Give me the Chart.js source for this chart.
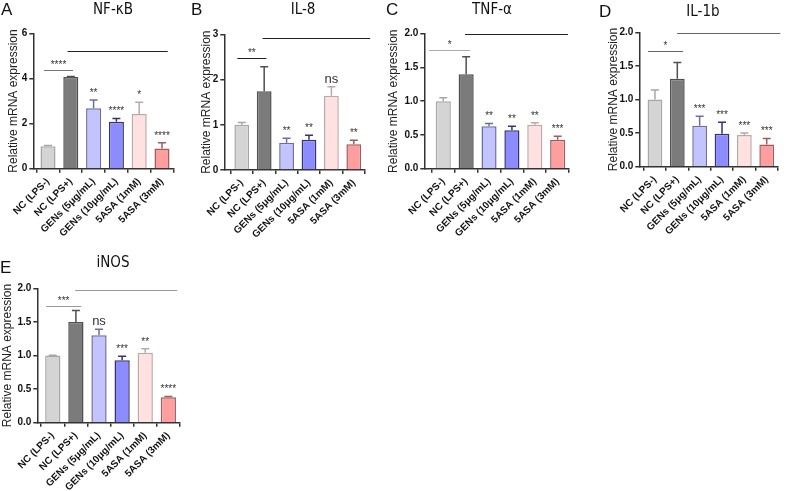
<!DOCTYPE html>
<html>
<head>
<meta charset="utf-8">
<script src="https://cdn.jsdelivr.net/npm/chart.js@4.4.1/dist/chart.umd.min.js"></script>
<style>
  body { margin: 0; background: #fff; width: 787px; height: 491px; overflow: hidden; position: relative; }
  canvas { position: absolute; }
</style>
</head>
<body>
<canvas id="cA" width="190" height="245" style="left:0px;top:0px"></canvas>
<canvas id="cB" width="195" height="245" style="left:190px;top:0px"></canvas>
<canvas id="cC" width="195" height="245" style="left:385px;top:0px"></canvas>
<canvas id="cD" width="207" height="245" style="left:580px;top:0px"></canvas>
<canvas id="cE" width="200" height="241" style="left:0px;top:250px"></canvas>
<script>
// groups on the x axis
const groups = ["NC (LPS-)", "NC (LPS+)", "GENs (5μg/mL)", "GENs (10μg/mL)", "5ASA (1mM)", "5ASA (3mM)"];

// mean and error (upper SEM) per panel
const nfkbMean = [1.0, 4.06, 2.68, 2.08, 2.42, 0.89];
const nfkbErr  = [0.03, 0.03, 0.36, 0.15, 0.52, 0.26];
const nfkbSig  = ["", "", "**", "****", "*", "****"];

const il8Mean = [1.0, 1.74, 0.60, 0.67, 1.64, 0.57];
const il8Err  = [0.05, 0.54, 0.10, 0.10, 0.20, 0.09];
const il8Sig  = ["", "", "**", "**", "ns", "**"];

const tnfMean = [1.0, 1.40, 0.63, 0.57, 0.65, 0.43];
const tnfErr  = [0.05, 0.26, 0.04, 0.06, 0.03, 0.05];
const tnfSig  = ["", "", "**", "**", "**", "***"];

const il1bMean = [1.0, 1.31, 0.61, 0.49, 0.47, 0.33];
const il1bErr  = [0.14, 0.24, 0.14, 0.17, 0.03, 0.09];
const il1bSig  = ["", "", "***", "***", "***", "***"];

const inosMean = [1.0, 1.50, 1.30, 0.93, 1.04, 0.38];
const inosErr  = [0.005, 0.17, 0.09, 0.06, 0.06, 0.01];
const inosSig  = ["", "", "ns", "***", "**", "****"];

// y axis ticks per panel
const ticksA = [0, 2, 4, 6];
const ticksB = [0, 1, 2, 3];
const ticksCDE = [0, 0.5, 1.0, 1.5, 2.0];

const fills   = ["#d4d4d4", "#7b7b7b", "#c3c3ff", "#8c8cff", "#ffe1e1", "#ff9e9e"];
const borders = ["#a6a6a6", "#505050", "#6e6e9c", "#34346e", "#bba8a8", "#9c5e5e"];

const FONT = "'Liberation Sans', Arial, sans-serif";

const panels = [
  { id: "cA", title: "NF-κB", letter: "A", mean: nfkbMean, err: nfkbErr, sig: nfkbSig, ticks: ticksA, dec: 0,
    padL: 6.1, yW: 27.2, padT: 33.3, xH: 76.3, padR: 16.6, xMin: -0.645,
    titleX: 113, titleY: 10, letterX: 1, letterY: 10,
    shortBr: [-0.18, 1.10, 4.39, "#777", "****"], longBr: [0.86, 5.25, 5.23, "#222"] },
  { id: "cB", title: "IL-8", letter: "B", mean: il8Mean, err: il8Err, sig: il8Sig, ticks: ticksB, dec: 0,
    padL: 9.3, yW: 25, padT: 34.3, xH: 75, padR: 20, xMin: -0.78,
    titleX: 113, titleY: 10, letterX: 1, letterY: 10,
    shortBr: [-0.2, 1.1, 2.48, "#222", "**"], longBr: [0.93, 5.73, 2.91, "#222"] },
  { id: "cC", title: "TNF-α", letter: "C", mean: tnfMean, err: tnfErr, sig: tnfSig, ticks: ticksCDE, dec: 1,
    padL: 1.5, yW: 37.8, padT: 33.7, xH: 76.3, padR: 10.9, xMin: -0.83,
    titleX: 107, titleY: 10, letterX: 1, letterY: 10,
    shortBr: [-0.62, 1.17, 1.754, "#aaa", "*"], longBr: [0.95, 5.45, 2.0, "#222"] },
  { id: "cD", title: "IL-1b", letter: "D", mean: il1bMean, err: il1bErr, sig: il1bSig, ticks: ticksCDE, dec: 1,
    padL: 26.5, yW: 32.8, padT: 32.3, xH: 78.3, padR: 9.1, xMin: -0.70,
    titleX: 123, titleY: 12, letterX: 19, letterY: 12,
    shortBr: [-0.31, 1.26, 1.72, "#666", "*"], longBr: [0.99, 5.61, 1.985, "#666"] },
  { id: "cE", title: "iNOS", letter: "E", mean: inosMean, err: inosErr, sig: inosSig, ticks: ticksCDE, dec: 1,
    padL: 0.3, yW: 37, padT: 38.3, xH: 68.3, padR: 20.1, xMin: -0.67,
    titleX: 113, titleY: 13, letterX: 0, letterY: 18,
    shortBr: [-0.29, 1.23, 1.73, "#999", "***"], longBr: [0.97, 5.38, 1.975, "#999"] }
];

function makeExtras(p) {
  return {
    id: "extras",
    afterDatasetsDraw(chart) {
      const ctx = chart.ctx, xs = chart.scales.x, ys = chart.scales.y;
      const meta = chart.getDatasetMeta(0);
      ctx.save();
      // error bars + significance marks
      p.err.forEach((e, i) => {
        const bar = meta.data[i];
        const top = ys.getPixelForValue(p.mean[i] + e);
        ctx.strokeStyle = borders[i];
        ctx.lineWidth = 1.5;
        ctx.beginPath();
        ctx.moveTo(bar.x, bar.y);
        ctx.lineTo(bar.x, top);
        ctx.moveTo(bar.x - 4, top);
        ctx.lineTo(bar.x + 4, top);
        ctx.stroke();
        const s = p.sig[i];
        if (s) {
          ctx.fillStyle = "#333";
          ctx.textAlign = "center";
          ctx.textBaseline = "alphabetic";
          ctx.font = s === "ns" ? "13px " + FONT : "10px " + FONT;
          ctx.fillText(s, bar.x, top - 4);
        }
      });
      // brackets
      const sb = p.shortBr, lb = p.longBr;
      ctx.lineWidth = 1;
      ctx.strokeStyle = sb[3];
      const sy = Math.round(ys.getPixelForValue(sb[2])) + 0.5;
      ctx.beginPath();
      ctx.moveTo(xs.getPixelForValue(sb[0]), sy);
      ctx.lineTo(xs.getPixelForValue(sb[1]), sy);
      ctx.stroke();
      ctx.fillStyle = "#333";
      ctx.textAlign = "center";
      ctx.font = "10px " + FONT;
      ctx.fillText(sb[4], (xs.getPixelForValue(sb[0]) + xs.getPixelForValue(sb[1])) / 2, sy - 3);
      ctx.strokeStyle = lb[3];
      const ly = Math.round(ys.getPixelForValue(lb[2])) + 0.5;
      ctx.beginPath();
      ctx.moveTo(xs.getPixelForValue(lb[0]), ly);
      ctx.lineTo(xs.getPixelForValue(lb[1]), ly);
      ctx.stroke();
      // title and panel letter
      ctx.fillStyle = "#111";
      ctx.textBaseline = "middle";
      ctx.font = "15px 'DejaVu Sans Condensed', 'DejaVu Sans', sans-serif";
      ctx.textAlign = "center";
      ctx.fillText(p.title, p.titleX, p.titleY);
      ctx.font = "17px " + FONT;
      ctx.textAlign = "left";
      ctx.fillText(p.letter, p.letterX, p.letterY);
      ctx.restore();
    }
  };
}

function makePanel(p) {
  const tickFont = { family: FONT, size: 10, weight: "bold" };
  new Chart(document.getElementById(p.id), {
    type: "bar",
    data: {
      datasets: [{
        data: p.mean.map((m, i) => ({ x: i, y: m })),
        backgroundColor: fills,
        borderColor: borders,
        borderWidth: 1.5,
        barPercentage: 0.66,
        categoryPercentage: 1
      }]
    },
    options: {
      responsive: false,
      animation: false,
      layout: { autoPadding: false, padding: { left: p.padL, top: p.padT, right: p.padR, bottom: 0 } },
      plugins: { legend: { display: false }, tooltip: { enabled: false } },
      scales: {
        x: {
          type: "linear",
          min: p.xMin,
          max: 5.5,
          offset: false,
          afterFit: s => { s.height = p.xH; s.paddingLeft = 0; s.paddingRight = 0; },
          ticks: {
            stepSize: 1, includeBounds: false, autoSkip: false,
            maxRotation: 45, minRotation: 45,
            callback: v => groups[v],
            font: tickFont, color: "#111"
          },
          grid: { drawOnChartArea: false, tickLength: 4, color: "#333", lineWidth: 1.5 },
          border: { color: "#333", width: 1.5 }
        },
        y: {
          min: 0,
          max: p.ticks[p.ticks.length - 1],
          afterFit: s => { s.width = p.yW; s.paddingTop = 0; s.paddingBottom = 0; },
          afterBuildTicks: s => { s.ticks = p.ticks.map(v => ({ value: v })); },
          ticks: { callback: v => v.toFixed(p.dec), font: tickFont, color: "#111", padding: 2 },
          grid: { drawOnChartArea: false, tickLength: 4, color: "#333", lineWidth: 1.5 },
          border: { color: "#333", width: 1.5 },
          title: { display: true, text: "Relative mRNA expression", font: { family: FONT, size: 12 }, color: "#222", padding: 0 }
        }
      }
    },
    plugins: [makeExtras(p)]
  });
}

panels.forEach(makePanel);
</script>
</body>
</html>
